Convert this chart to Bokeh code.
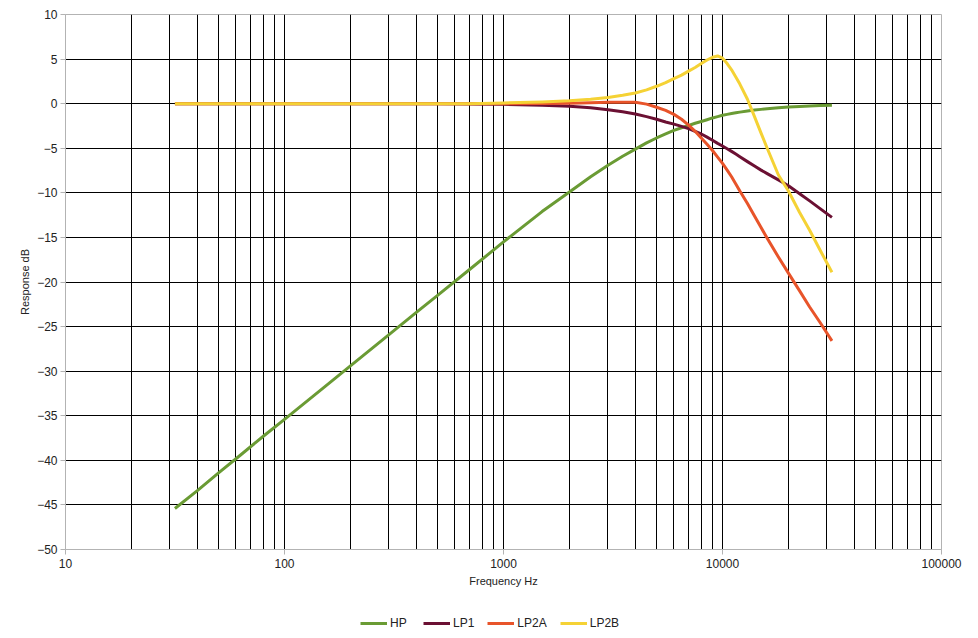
from bokeh.plotting import figure
from bokeh.layouts import column
from bokeh.models import FixedTicker, NumeralTickFormatter, Legend, LegendItem, Range1d
from bokeh.embed import file_html
from bokeh.resources import INLINE

freq = [31.6, 40, 50, 63, 80, 100, 150, 200, 300, 400, 500, 700, 1000, 1500, 2000,
        2500, 3000, 3500, 4000, 4500, 5000, 5500, 6000, 6500, 7000, 7500, 8000, 8500,
        9000, 9500, 10000, 10500, 11000, 11500, 12000, 13000, 14000, 15000, 16000,
        18000, 20000, 22500, 25000, 28000, 31600]

hp = [-45.4, -43.4, -41.4, -39.4, -37.3, -35.4, -31.9, -29.4, -25.9, -23.4, -21.5, -18.6,
      -15.5, -12.1, -9.9, -8.2, -6.9, -5.9, -5.1, -4.4, -3.85, -3.4, -3.0, -2.7, -2.45,
      -2.2, -2.0, -1.8, -1.6, -1.45, -1.3, -1.2, -1.1, -1.02, -0.95, -0.82, -0.72, -0.64,
      -0.57, -0.46, -0.38, -0.31, -0.26, -0.21, -0.17]

lp1 = [0, 0, 0, 0, 0, 0, 0, 0, 0, -0.01, -0.02, -0.04, -0.07, -0.17, -0.3, -0.47, -0.67,
       -0.9, -1.15, -1.45, -1.75, -2.05, -2.3, -2.55, -2.8, -3.1, -3.4, -3.75, -4.1, -4.45,
       -4.75, -5.05, -5.35, -5.65, -5.95, -6.5, -7.0, -7.45, -7.85, -8.55, -9.2, -10.1,
       -10.9, -11.8, -12.75]

lp2a = [0, 0, 0, 0, 0, 0, 0, 0, 0, 0, 0, 0, 0, 0.02, 0.05, 0.1, 0.15, 0.17, 0.15, -0.05,
        -0.4, -0.75, -1.2, -1.75, -2.4, -3.1, -3.85, -4.55, -5.25, -6.0, -6.7, -7.45, -8.2,
        -9.0, -9.8, -11.2, -12.6, -13.9, -15.1, -17.2, -19.0, -21.0, -22.8, -24.6, -26.6]

lp2b = [0, 0, 0, 0, 0, 0, 0, 0, 0, 0, 0, 0, 0.08, 0.2, 0.33, 0.5, 0.7, 0.95, 1.2, 1.55,
        1.95, 2.35, 2.8, 3.2, 3.65, 4.05, 4.5, 4.9, 5.2, 5.35, 5.1, 4.5, 3.8, 3.0, 2.2,
        0.5, -1.45, -3.3, -5.0, -8.0, -9.8, -12.2, -14.2, -16.5, -18.9]

series_names = ["HP", "LP1", "LP2A", "LP2B"]
series_colors = ["#6a9b34", "#6b1033", "#e8542a", "#f5d235"]

x_major = [10, 100, 1000, 10000, 100000]
x_minor = [m * d for d in [10, 100, 1000, 10000] for m in range(2, 10)]
y_ticks = list(range(-50, 11, 5))

FONT = "Liberation Sans"
GRID_BORDER = "#b3b3b3"
TEXT = "#222222"
NAN = float("nan")

p = figure(width=978, height=600, x_axis_type="log",
           x_range=Range1d(10, 100000), y_range=Range1d(-50, 10),
           output_backend="svg", toolbar_location=None,
           min_border_left=65, min_border_right=37, min_border_top=14,
           min_border_bottom=51)

p.outline_line_color = GRID_BORDER
p.background_fill_color = "white"
p.border_fill_color = "white"

# axes
p.xaxis.ticker = FixedTicker(ticks=x_major, minor_ticks=x_minor)
p.xaxis.formatter = NumeralTickFormatter(format="0")
p.yaxis.ticker = FixedTicker(ticks=y_ticks)
for ax in (p.xaxis[0], p.yaxis[0]):
    ax.axis_line_color = GRID_BORDER
    ax.major_tick_line_color = GRID_BORDER
    ax.major_tick_out = 5
    ax.major_tick_in = 0
    ax.minor_tick_line_color = None
    ax.major_label_text_font = FONT
    ax.major_label_text_font_size = "12px"
    ax.major_label_text_color = TEXT
    ax.axis_label_text_font = FONT
    ax.axis_label_text_font_size = "11px"
    ax.axis_label_text_font_style = "normal"
    ax.axis_label_text_color = TEXT
p.xaxis.axis_label = "Frequency Hz"
p.yaxis.axis_label = "Response dB"
p.xaxis.major_label_standoff = 4
p.xaxis.axis_label_standoff = 4
p.yaxis.major_label_standoff = 3
p.yaxis.axis_label_standoff = 3

# grids
p.xgrid.ticker = FixedTicker(ticks=[100, 1000, 10000], minor_ticks=x_minor)
p.xgrid.grid_line_color = "black"
p.xgrid.minor_grid_line_color = "black"
p.xgrid.grid_line_width = 1
p.xgrid.minor_grid_line_width = 1
p.ygrid.ticker = FixedTicker(ticks=list(range(-45, 10, 5)))
p.ygrid.grid_line_color = "black"
p.ygrid.grid_line_width = 1

for color, vals in zip(series_colors, [hp, lp1, lp2a, lp2b]):
    p.line(freq, vals, line_color=color, line_width=3, line_join="round")

# legend strip below the chart (proxy renderers hold no visible data)
lg = figure(width=978, height=38, x_range=Range1d(0, 1), y_range=Range1d(0, 1),
            output_backend="svg", toolbar_location=None,
            x_axis_location=None, y_axis_location=None,
            min_border_left=0, min_border_right=0, min_border_top=0,
            min_border_bottom=0)
lg.grid.visible = False
lg.outline_line_color = None
lg.background_fill_color = "white"
lg.border_fill_color = "white"

items = []
for name, color in zip(series_names, series_colors):
    r = lg.line(x=[NAN, NAN], y=[NAN, NAN], line_color=color, line_width=3)
    items.append(LegendItem(label=name, renderers=[r]))

legend = Legend(items=items, orientation="horizontal", location=(295, 7),
                label_text_font=FONT, label_text_font_size="12px",
                label_text_color=TEXT,
                glyph_width=27, glyph_height=16, label_standoff=3, spacing=13,
                border_line_color=None, background_fill_alpha=0,
                padding=4, margin=0)
lg.add_layout(legend, "center")

layout = column(p, lg, spacing=0)
open("out.html", "w").write(file_html(layout, INLINE))
